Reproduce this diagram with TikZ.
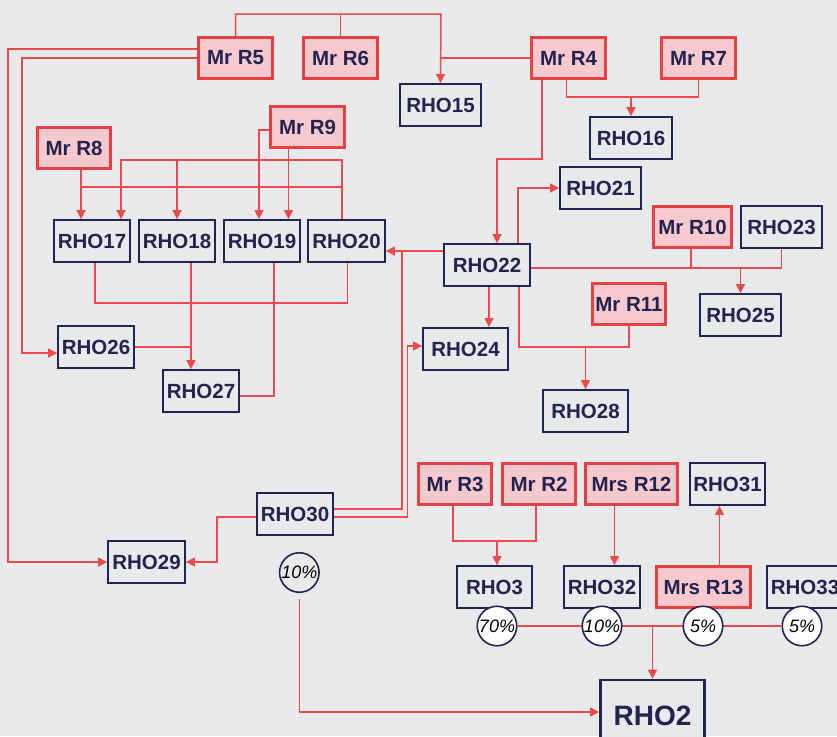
\documentclass[tikz,border=0pt]{standalone}
\usepackage{fontspec}
\setmainfont{Liberation Sans}
\usetikzlibrary{arrows.meta,calc}
\pgfdeclarelayer{background}
\pgfsetlayers{background,main}
\definecolor{bgc}{RGB}{232,233,235}
\definecolor{rdc}{RGB}{230,64,66}
\definecolor{pkc}{RGB}{245,201,206}
\definecolor{nvc}{RGB}{36,34,78}
\definecolor{lnc}{RGB}{233,74,76}
\tikzset{
 rb/.style={draw=rdc, line width=2.8pt, fill=pkc, text=nvc, font=\bfseries\fontsize{20.5}{24}\selectfont, minimum height=41pt, inner sep=0pt},
 nb/.style={draw=nvc, line width=1.8pt, fill=bgc, text=nvc, font=\bfseries\fontsize{20.5}{24}\selectfont, minimum height=42pt, inner sep=0pt},
 pc/.style={circle, draw=nvc, line width=1.6pt, fill=white, minimum size=39.5pt, inner sep=0pt, text=black, font=\itshape\fontsize{18}{20}\selectfont},
 ln/.style={draw=lnc, line width=1.5pt},
 ar/.style={ln, -{Triangle[length=9pt,width=9pt]}},
}
\begin{document}
\begin{tikzpicture}[x=1pt,y=-1pt]
\path[use as bounding box] (0,0) rectangle (837,736);
\clip (0,0) rectangle (837,736);
% red boxes
\node[rb, minimum width=74pt] (r5) at (235.5,58) {Mr R5};
\node[rb, minimum width=74pt] (r6) at (340.5,58) {Mr R6};
\node[rb, minimum width=74pt] (r4) at (568.5,58) {Mr R4};
\node[rb, minimum width=74pt] (r7) at (698.5,58) {Mr R7};
\node[rb, minimum width=73pt] (r8) at (74,148) {Mr R8};
\node[rb, minimum width=74pt] (r9) at (307.5,127) {Mr R9};
\node[rb, minimum width=78pt] (r10) at (692.5,227) {Mr R10};
\node[rb, minimum width=73pt] (r11) at (629,304) {Mr R11};
\node[rb, minimum width=73pt] (r3) at (455,484) {Mr R3};
\node[rb, minimum width=73pt] (r2) at (539,484) {Mr R2};
\node[rb, minimum width=92pt] (r12) at (631.5,484) {Mrs R12};
\node[rb, minimum width=94pt] (r13) at (703.5,587) {Mrs R13};
% navy boxes
\node[nb, minimum width=81pt] (rho15) at (440.5,105) {RHO15};
\node[nb, minimum width=82pt] (rho16) at (631,138) {RHO16};
\node[nb, minimum width=81pt] (rho21) at (600.5,188) {RHO21};
\node[nb, minimum width=81pt] (rho23) at (781.5,227) {RHO23};
\node[nb, minimum width=86pt] (rho22) at (487,265) {RHO22};
\node[nb, minimum width=76pt] (rho17) at (92,241) {RHO17};
\node[nb, minimum width=76pt] (rho18) at (177,241) {RHO18};
\node[nb, minimum width=76pt] (rho19) at (262,241) {RHO19};
\node[nb, minimum width=77pt] (rho20) at (346.5,241) {RHO20};
\node[nb, minimum width=76pt] (rho26) at (96,347) {RHO26};
\node[nb, minimum width=76pt] (rho27) at (201,391) {RHO27};
\node[nb, minimum width=85pt] (rho24) at (465.5,349) {RHO24};
\node[nb, minimum width=81pt] (rho25) at (740.5,315) {RHO25};
\node[nb, minimum width=85pt] (rho28) at (585.5,411) {RHO28};
\node[nb, minimum width=76pt] (rho30) at (295,514) {RHO30};
\node[nb, minimum width=77pt] (rho29) at (146.5,562) {RHO29};
\node[nb, minimum width=75pt] (rho31) at (727.5,484) {RHO31};
\node[nb, minimum width=75pt] (rho3) at (494.5,587) {RHO3};
\node[nb, minimum width=76pt] (rho32) at (602,587) {RHO32};
\node[nb, minimum width=76pt] (rho33) at (805,587) {RHO33};
\node[nb, line width=2.6pt, minimum width=104pt, minimum height=72pt, font=\bfseries\fontsize{28}{32}\selectfont] (rho2) at (652.5,716) {RHO2};
% circles
\node[pc, fill=bgc] (c10a) at (299.3,572.5) {10\%};
\node[pc] (c70) at (497,626) {70\%};
\node[pc] (c10b) at (602,626) {10\%};
\node[pc] (c5a) at (703,626) {5\%};
\node[pc] (c5b) at (802,626) {5\%};
% helper coordinates
\coordinate (t1) at (441,14);
\coordinate (o1) at (8,0);
\coordinate (o2) at (22,0);
\coordinate (a26) at ([yshift=-6pt]rho26.west);
\coordinate (s4a) at ([xshift=-26.5pt]r4.south);
\coordinate (j1) at (497,159);
\coordinate (n22) at ([xshift=10pt]rho22.north);
\coordinate (s4b) at ([xshift=-2pt]r4.south);
\coordinate (j2) at (631,97);
\coordinate (n22b) at ([xshift=31pt]rho22.north);
\coordinate (e22) at ([yshift=-3pt]rho22.east);
\coordinate (j3) at (740.5,268);
\coordinate (a20) at ([yshift=-10pt]rho20.east);
\coordinate (w22) at ([yshift=14pt]rho22.west);
\coordinate (v1) at (402,0);
\coordinate (e30a) at ([yshift=5pt]rho30.east);
\coordinate (e30b) at ([yshift=-3pt]rho30.east);
\coordinate (a24) at ([yshift=3pt]rho24.west);
\coordinate (v2) at (407.3,0);
\coordinate (s22a) at ([xshift=2pt]rho22.south);
\coordinate (s22b) at ([xshift=32pt]rho22.south);
\coordinate (j4) at (585.5,347);
\coordinate (s8) at ([xshift=7pt]r8.south);
\coordinate (h1) at (0,187);
\coordinate (n20) at ([xshift=-4.5pt]rho20.north);
\coordinate (j5) at (121,160);
\coordinate (w9) at ([yshift=-3pt]r9.west);
\coordinate (n19a) at ([xshift=-3pt]rho19.north);
\coordinate (s9) at ([xshift=-19pt]r9.south);
\coordinate (b17) at ([xshift=3pt]rho17.south);
\coordinate (b20) at ([xshift=1pt]rho20.south);
\coordinate (yb) at (0,303);
\coordinate (b18) at ([xshift=14pt]rho18.south);
\coordinate (b19) at ([xshift=12pt]rho19.south);
\coordinate (e27) at ([yshift=-5pt]rho27.east);
\coordinate (w30) at ([yshift=-3pt]rho30.west);
\coordinate (j9) at (217,562);
\coordinate (s10) at ([yshift=-6pt]c10a.south);
\coordinate (w2) at ([yshift=4pt]rho2.west);
\coordinate (s3) at ([xshift=-2pt]r3.south);
\coordinate (s2) at ([xshift=-3pt]r2.south);
\coordinate (j10) at (497,541);
\coordinate (s12) at ([xshift=-17pt]r12.south);
\coordinate (n13) at ([xshift=16pt]r13.north);
\begin{pgfonlayer}{background}
\fill[bgc] (0,0) rectangle (837,736);
% top
\draw[ar] (r5.north) |- (t1) -- (rho15.north);
\draw[ln] (r6.north) -- (r6.north |- t1);
\draw[ln] (r4.west) -- (r4.west -| t1);
% R5 left
\draw[ar] ([yshift=9pt]r5.west) -| (o1 |- rho29.west) -- (rho29.west);
\draw[ar] (r5.west) -| (o2 |- a26) -- (a26);
% R4
\draw[ar] (s4a) |- (j1) -- (n22);
\draw[ln] (s4b) |- (j2) -| (r7.south);
\draw[ar] (j2) -- (j2 |- rho16.north);
% RHO22 right/top
\draw[ar] (n22b) |- (rho21.west);
\draw[ln] (e22) -| (rho23.south);
\draw[ln] ([xshift=-1.5pt]r10.south) -- ([xshift=-1.5pt]r10.south |- j3);
\draw[ar] (j3) -- (j3 |- rho25.north);
% RHO22 left, RHO30
\draw[ar] (w22) -- (a20);
\draw[ln] (e30a) -| (v1 |- a20);
\draw[ar] (e30b) -| (v2 |- a24) -- (a24);
% RHO22 bottom
\draw[ar] (s22a) -- (s22a |- rho24.north);
\draw[ln] (s22b) |- (j4) -| (r11.south);
\draw[ar] (j4) -- (j4 |- rho28.north);
% R8, R9, RHO20
\draw[ar] (s8) -- (s8 |- rho17.north);
\draw[ln] (s8 |- h1) -- (n20 |- h1);
\draw[ar] (n20) |- (j5) -- (j5 |- rho17.north);
\draw[ar] (rho18.north |- j5) -- (rho18.north);
\draw[ar] (w9) -| (n19a);
\draw[ar] (s9) -- (s9 |- rho19.north);
% below row
\draw[ln] (b17) -- (b17 |- yb) -- (b20 |- yb) -- (b20);
\draw[ar] (b18) -- (b18 |- rho27.north);
\draw[ln] (b19) |- (e27);
\draw[ln] (rho26.east) -- (rho26.east -| b18);
% RHO30 -> RHO29
\draw[ar] (w30) -| (j9) -- (rho29.east);
% 10% -> RHO2
\draw[ar] (s10) |- (w2);
% bottom right
\draw[ln] (s3) |- (s2 |- j10) -- (s2);
\draw[ar] (j10) -- (j10 |- rho3.north);
\draw[ar] (s12) -- (s12 |- rho32.north);
\draw[ar] (n13) -- (n13 |- rho31.south);
\draw[ln] (c70.east) -- (c5b.west);
\draw[ar] (rho2.north |- c70.center) -- (rho2.north);
\end{pgfonlayer}
\end{tikzpicture}
\end{document}
